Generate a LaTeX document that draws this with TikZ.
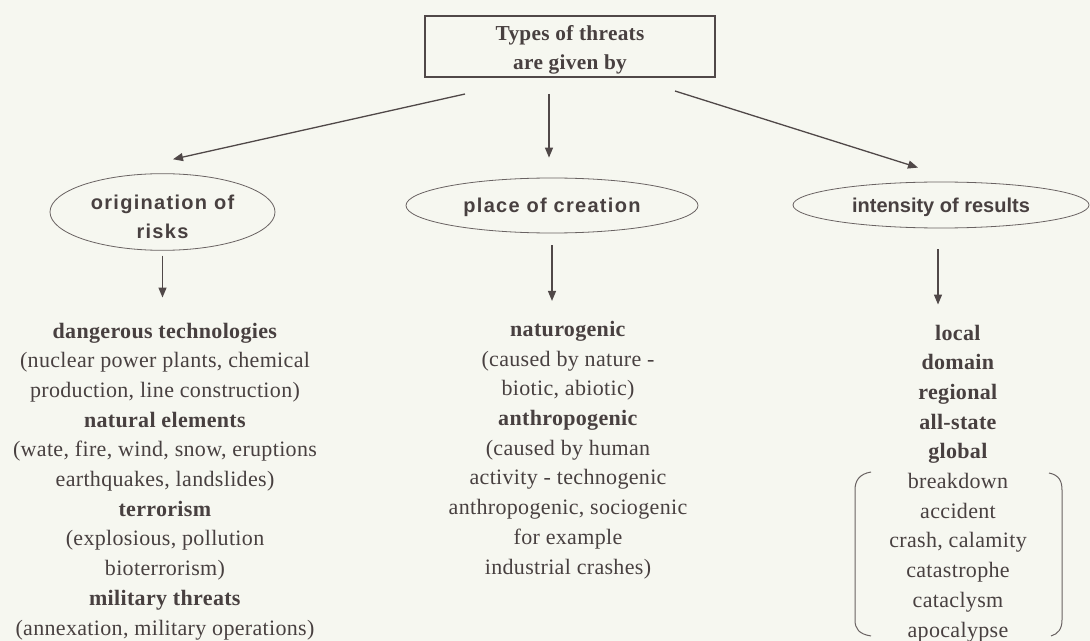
\documentclass[tikz,border=0pt]{standalone}
\usepackage{fontspec}
\setmainfont[LetterSpace=1.5]{Liberation Serif}
\setsansfont{Liberation Sans}
\newfontfamily\ellfont[LetterSpace=6.5]{Liberation Sans}
\usetikzlibrary{shapes.geometric,arrows.meta}
\definecolor{bg}{RGB}{246,247,240}
\definecolor{ink}{RGB}{72,64,64}
\definecolor{linec}{RGB}{80,72,72}
\definecolor{ellc}{RGB}{105,98,98}
\begin{document}
\begin{tikzpicture}[x=1bp,y=-1bp,
  arr/.style={draw=linec, line width=1.3bp, -{Triangle[length=10bp,width=8bp]}},
  topbox/.style={draw=linec, line width=2bp, minimum width=290bp, minimum height=61bp, inner sep=0pt, align=center, text=ink, font=\fontsize{21.3bp}{29bp}\selectfont\bfseries},
  ell/.style={ellipse, draw=ellc, line width=0.8bp, inner sep=0pt, align=center, text=ink},
  col/.style={align=center, inner sep=0pt, anchor=base, text=ink, font=\fontsize{22bp}{29.7bp}\selectfont},
  bracket/.style={draw=ellc, line width=1bp}
]
\fill[bg] (0,0) rectangle (1090,641);
\useasboundingbox (0,0) rectangle (1090,641);

\node[topbox] (top) at (570,46.5) {\rule{0pt}{21bp}Types of threats\\are given by};

\node[ell, minimum width=225bp, minimum height=76bp, font=\fontsize{20bp}{29bp}\ellfont\bfseries] (orig) at (162.5,212) {\rule{0pt}{25bp}origination of\\risks};
\node[ell, minimum width=292bp, minimum height=55bp, font=\fontsize{20bp}{29bp}\ellfont\bfseries] (place) at (552,205.5) {\rule{0pt}{18.6bp}place of creation};
\node[ell, minimum width=296bp, minimum height=46bp, font=\fontsize{20bp}{29bp}\sffamily\bfseries] (inten) at (941,205) {\rule{0pt}{19.5bp}intensity of results};

\node[col] (colL) at (165,635) {\textbf{dangerous technologies}\\
(nuclear power plants, chemical\\
production, line construction)\\
\textbf{natural elements}\\
(wate, fire, wind, snow, eruptions\\
earthquakes, landslides)\\
\textbf{terrorism}\\
(explosious, pollution\\
bioterrorism)\\
\textbf{military threats}\\
(annexation, military operations)};

\node[col] (colM) at (568,574) {\textbf{naturogenic}\\
(caused by nature -\\
biotic, abiotic)\\
\textbf{anthropogenic}\\
(caused by human\\
activity - technogenic\\
anthropogenic, sociogenic\\
for example\\
industrial crashes)};

\node[col] (colR) at (958,637) {\textbf{local}\\
\textbf{domain}\\
\textbf{regional}\\
\textbf{all-state}\\
\textbf{global}\\
breakdown\\
accident\\
crash, calamity\\
catastrophe\\
cataclysm\\
apocalypse};

\draw[arr] ([shift={(-105,16)}]top.south) -- ([shift={(10.5,-14)}]orig.north);
\draw[arr] ([shift={(-21,16)}]top.south) -- ([shift={(-3,-20)}]place.north);
\draw[arr] ([shift={(105,13)}]top.south) -- ([shift={(-23,-14)}]inten.north);

\draw[arr, shorten <=5bp, shorten >=25bp] (orig.south) -- (orig.south |- colL.north);
\draw[arr, shorten <=12bp, shorten >=20bp] (place.south) -- (place.south |- colM.north);
\draw[arr, shorten <=21bp, shorten >=20bp] ([xshift=-3bp]inten.south) -- ([xshift=-3bp]inten.south |- colR.north);

\draw[bracket] (871,472) .. controls (859,474) and (855,481) .. (855,490) -- (855,620) .. controls (855,629) and (859,634) .. (871,636);
\draw[bracket] (1049,473) .. controls (1059,475) and (1062,481) .. (1062,490) -- (1062,620) .. controls (1062,629) and (1058,634) .. (1051,636);
\end{tikzpicture}
\end{document}
